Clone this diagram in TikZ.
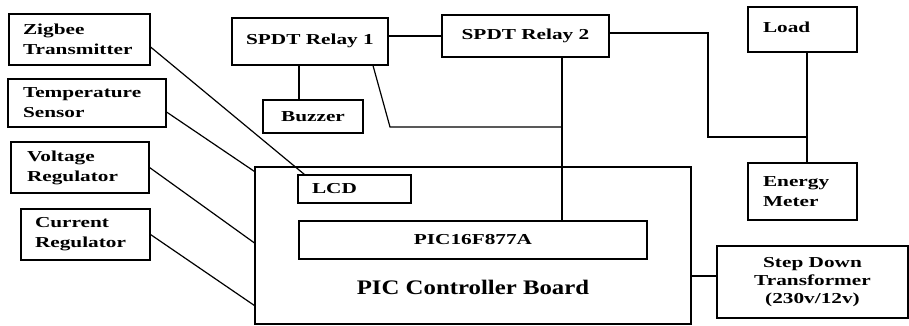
\documentclass[tikz,border=0pt]{standalone}
\usepackage{fontspec}
\usepackage{graphicx}
\setmainfont{Liberation Serif}
\newcommand\sx[1]{\scalebox{1.4}[1]{#1}}
\begin{document}
\begin{tikzpicture}[x=0.75pt,y=-0.75pt,
  box/.style={draw, line width=0.8pt, inner sep=0pt, font=\fontsize{11.4}{15}\selectfont\bfseries},
  wh/.style 2 args={minimum width=#1*0.75pt, minimum height=#2*0.75pt},
  ln/.style={line width=0.9pt}]
\useasboundingbox (0,0) rectangle (909,325);
% left boxes
\node[box,wh={141}{51},text width=84.75pt,inner xsep=10.5pt,align=left] (zig) at (79.5,39.5) {\sx{Zigbee}\\\sx{Transmitter}};
\node[box,wh={158}{48},text width=96pt,inner xsep=11.25pt,align=left] (temp) at (87,103) {\sx{Temperature}\\\sx{Sensor}};
\node[box,wh={138}{51},text width=79.5pt,inner xsep=12pt,align=left] (volt) at (80,167.5) {\sx{Voltage}\\\sx{Regulator}};
\node[box,wh={129}{51},text width=75.75pt,inner xsep=10.5pt,align=left] (curr) at (85.5,234.5) {\sx{Current}\\\sx{Regulator}};
% relays
\node[box,wh={156}{47}] (r1) at (310,41.5) {\raisebox{3pt}{\sx{SPDT Relay 1}}};
\node[box,wh={167}{42}] (r2) at (525.5,36) {\sx{SPDT Relay 2}};
\node[box,wh={100}{33}] (buz) at (313,116.5) {\sx{Buzzer}};
% right
\node[box,wh={109}{45},text width=59.25pt,inner xsep=11.25pt,align=left] (load) at (802.5,29.5) {\raisebox{3pt}{\sx{Load}}};
\node[box,wh={109}{57},text width=59.25pt,inner xsep=11.25pt,align=left] (em) at (802.5,191.5) {\sx{Energy}\\\sx{Meter}};
\node[box,wh={191}{72},align=center,font=\fontsize{11.4}{13.5}\selectfont\bfseries] (sdt) at (812.5,282) {\sx{Step Down}\\\sx{Transformer}\\\sx{(230v/12v)}};
% board
\node[box,wh={436}{157}] (board) at (473,245.5) {};
\node[box,wh={113}{28},text width=63.75pt,inner xsep=10.5pt,align=left] (lcd) at (354.5,189) {\sx{LCD}};
\node[box,wh={348}{38}] (pic) at (473,240) {\sx{PIC16F877A}};
\node[font=\fontsize{15.5}{18}\selectfont\bfseries] (blabel) at (473,287) {\scalebox{1.2}[1]{PIC Controller Board}};
% junction coordinates
\coordinate (k) at (390,127);
\coordinate (j) at (562,127);
\coordinate (a) at (708,33);
\coordinate (b) at (708,137);
\coordinate (m) at (807,137);
% connectors
\draw[ln] ([yshift=-5.6pt]zig.east) -- ([xshift=5.25pt]lcd.north west);
\draw[ln] ([yshift=-6.75pt]temp.east) -- ([yshift=-3.75pt]board.north west);
\draw[ln] (volt.east) -- ([yshift=1.9pt]board.west);
\draw[ln] (curr.east) -- ([yshift=14.25pt]board.south west);
\draw[ln] (r2.west -| r1.east) -- (r2.west);
\draw[ln] ([xshift=-10.5pt]buz.north) -- ([xshift=-10.5pt]buz.north |- r1.south);
\draw[ln] ([xshift=47.25pt]r1.south) -- (k) -- (j);
\draw[ln] (r2.south -| j) -- (pic.north -| j);
\draw[ln] (a -| r2.east) -- (a) -- (b) -- (m);
\draw[ln] (load.south -| m) -- (em.north -| m);
\draw[ln] ([yshift=4.5pt]sdt.west -| board.east) -- ([yshift=4.5pt]sdt.west);
\end{tikzpicture}
\end{document}
